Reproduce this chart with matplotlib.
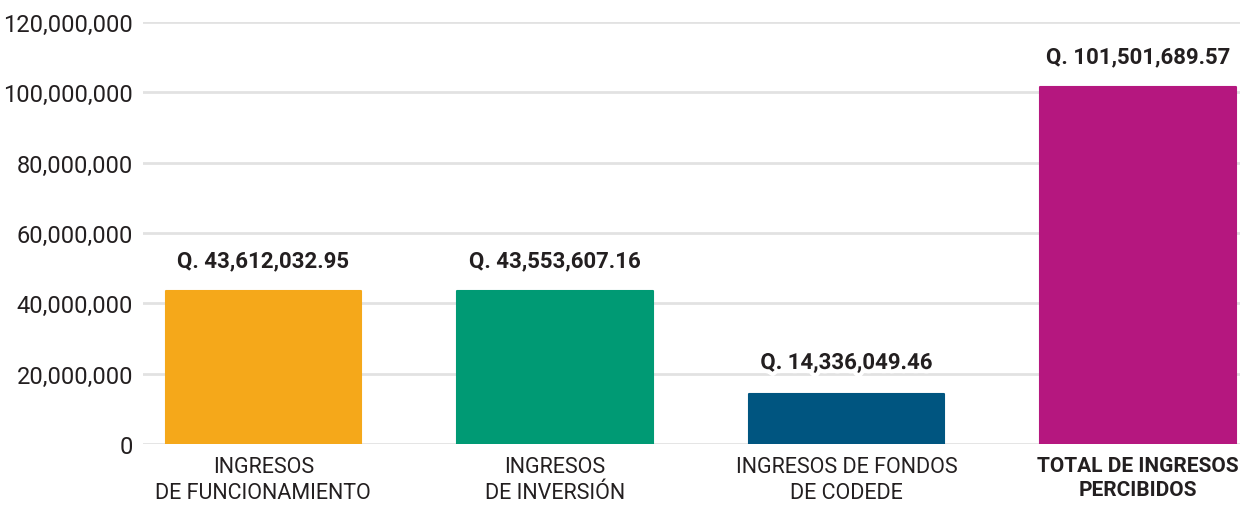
import matplotlib
matplotlib.use("Agg")
import matplotlib.pyplot as plt
import matplotlib.patheffects as pe

plt.rcParams['font.family'] = ['Roboto', 'DejaVu Sans']

categories = ["INGRESOS\nDE FUNCIONAMIENTO", "INGRESOS\nDE INVERSIÓN",
              "INGRESOS DE FONDOS\nDE CODEDE", "TOTAL DE INGRESOS\nPERCIBIDOS"]
values = [43612032.95, 43553607.16, 14336049.46, 101501689.57]
value_labels = ["Q. 43,612,032.95", "Q. 43,553,607.16", "Q. 14,336,049.46", "Q. 101,501,689.57"]
colors = ["#F5A81A", "#009A74", "#005580", "#B5177F"]
yticks = [0, 20000000, 40000000, 60000000, 80000000, 100000000, 120000000]

txt = "#231F20"
fig = plt.figure(figsize=(12.53, 5.06), dpi=100)
ax = fig.add_axes([0.1141, 0.1206, 0.8755, 0.834])
x = list(range(len(values)))
bars = ax.bar(x, values, width=0.67, color=colors, edgecolor=colors,
              linewidth=1.5, joinstyle='round', zorder=3)
ax.set_xlim(-0.413, 3.35)
ax.set_ylim(0, 120000000)
ax.set_yticks(yticks)
ax.set_yticklabels([f"{v:,}" for v in yticks], fontsize=17, color=txt)
ax.yaxis.grid(True, color="#E2E2E2", linewidth=2, zorder=0)
ax.set_axisbelow(True)
ax.tick_params(axis='y', length=0, pad=7)
ax.tick_params(axis='x', length=0, pad=9)
ax.set_xticks(x)
ax.set_xticklabels(categories, fontsize=15.5, color=txt, linespacing=1.3)
ax.get_xticklabels()[-1].set_fontweight('bold')
ax.get_xticklabels()[-1].set_fontsize(15)
for s in ax.spines.values():
    s.set_visible(False)

for i, (v, lab) in enumerate(zip(values, value_labels)):
    t = ax.annotate(lab, (i, v), xytext=(0, 22), textcoords='offset points',
                    ha='center', va='center', fontsize=16, fontweight='bold', color=txt, zorder=5)
    if i == 2:
        t.set_path_effects([pe.withStroke(linewidth=6, foreground='white')])

fig.savefig("out.png", dpi=100)
